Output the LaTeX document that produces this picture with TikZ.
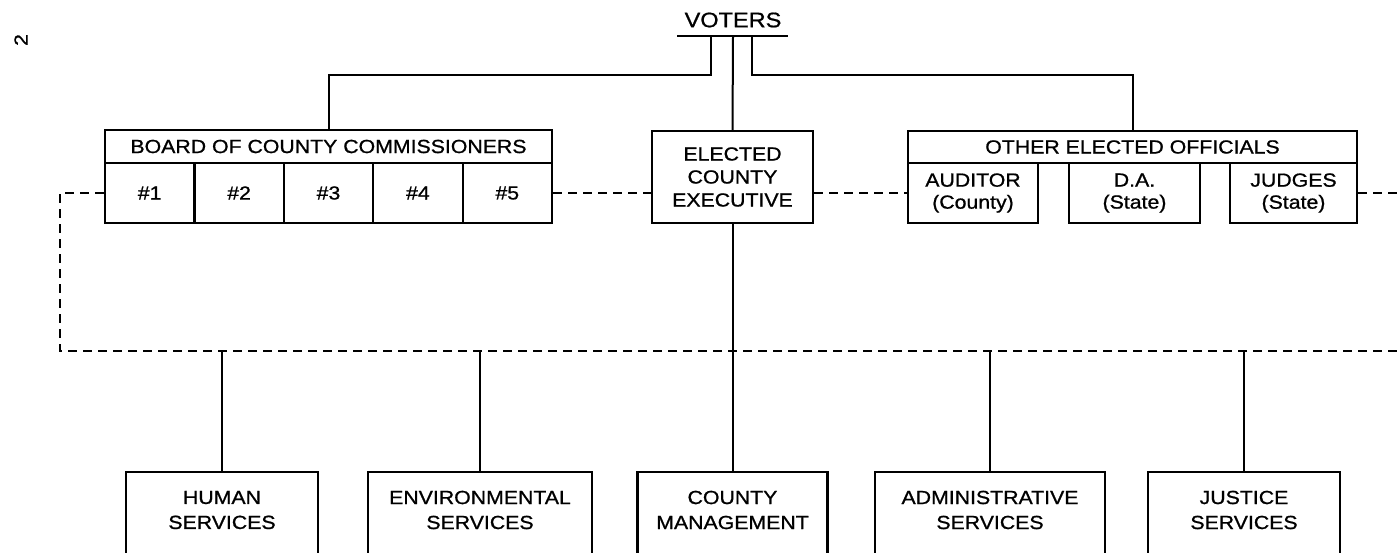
\documentclass[tikz,border=0pt]{standalone}
\usepackage{fontspec}
\setmainfont{Liberation Sans}[FakeStretch=1.12,FakeBold=0.9]
\begin{document}
\begin{tikzpicture}[x=1pt,y=-1pt,
  every node/.style={font=\fontsize{19}{23}\selectfont, align=center},
  box/.style={draw, line width=2.2pt, inner sep=0pt, anchor=center},
  conn/.style={line width=2pt},
  dashconn/.style={line width=1.8pt, dash pattern=on 9pt off 6pt},
  lbl/.style={inner sep=0pt}
]
\clip (0,0) rectangle (1397,553);
\fill[white] (0,0) rectangle (1397,553);

% page number
\node[lbl, rotate=90] (pg) at (21,40) {2};

% voters
\node[lbl, font=\fontsize{21}{25}\selectfont] (voters) at (733,20) {VOTERS};
\coordinate (vl) at (677,36);
\coordinate (vr) at (788,36);
\coordinate (v1) at (711,36);
\coordinate (v2) at (733,36);
\coordinate (v3) at (752,36);
\draw[conn] (vl) -- (vr);

% board
\node[box, minimum width=447pt, minimum height=33pt] (board) at (328.5,146.5) {BOARD OF COUNTY COMMISSIONERS};
\node[box, minimum width=89.4pt, minimum height=60pt] (c1) at (149.7,193) {\#1};
\node[box, minimum width=89.4pt, minimum height=60pt] (c2) at (239.1,193) {\#2};
\node[box, minimum width=89.4pt, minimum height=60pt] (c3) at (328.5,193) {\#3};
\node[box, minimum width=89.4pt, minimum height=60pt] (c4) at (417.9,193) {\#4};
\node[box, minimum width=89.4pt, minimum height=60pt] (c5) at (507.3,193) {\#5};

% executive
\node[box, minimum width=161pt, minimum height=92pt] (exec) at (732.5,177) {ELECTED\\COUNTY\\EXECUTIVE};

% other elected
\node[box, minimum width=449pt, minimum height=32pt] (other) at (1132.5,147) {OTHER ELECTED OFFICIALS};
\node[box, minimum width=130pt, minimum height=60pt, font=\fontsize{19}{22}\selectfont] (auditor) at (973,193) {AUDITOR\\(County)};
\node[box, minimum width=131pt, minimum height=60pt, font=\fontsize{19}{22}\selectfont] (da) at (1134.5,193) {D.A.\\(State)};
\node[box, minimum width=127pt, minimum height=60pt, font=\fontsize{19}{22}\selectfont] (judges) at (1293.5,193) {JUDGES\\(State)};

% bottom boxes
\tikzset{botbox/.style={box, minimum height=110pt}}
\node[botbox, minimum width=192pt] (human) at (222,527) {};
\node[botbox, minimum width=224pt] (env) at (480,527) {};
\node[botbox, minimum width=190pt] (mgmt) at (732.5,527) {};
\node[botbox, minimum width=230pt] (admin) at (990,527) {};
\node[botbox, minimum width=192pt] (justice) at (1244,527) {};
\tikzset{bottxt/.style={lbl, font=\fontsize{19}{25}\selectfont}}
\node[bottxt] (humant) at (222,510) {HUMAN\\SERVICES};
\node[bottxt] (envt) at (480,510) {ENVIRONMENTAL\\SERVICES};
\node[bottxt] (mgmtt) at (732.5,510) {COUNTY\\MANAGEMENT};
\node[bottxt] (admint) at (990,510) {ADMINISTRATIVE\\SERVICES};
\node[bottxt] (justicet) at (1244,510) {JUSTICE\\SERVICES};

% solid connectors from voters
\draw[conn] (v1) -- (711,75) -| (board.north);
\draw[conn] (v2) -- (exec.north);
\draw[conn] (v3) -- (752,75) -| (other.north);
\draw[conn] (exec.south) -- (mgmt.north);

% dashed relations
\coordinate (dl) at (60,351);
\coordinate (dr) at (1400,351);
\coordinate (jr) at (1400,193);
\draw[dashconn] (c1.west) -- (60,193) -- (dl) -- (dr);
\draw[dashconn] (c5.east) -- (c5.east -| exec.west);
\draw[dashconn] (auditor.west -| exec.east) -- (auditor.west);
\draw[dashconn] (judges.east) -- (jr);

% drops to departments
\draw[conn] (human.north |- dl) -- (human.north);
\draw[conn] (env.north |- dl) -- (env.north);
\draw[conn] (admin.north |- dl) -- (admin.north);
\draw[conn] (justice.north |- dl) -- (justice.north);
\end{tikzpicture}
\end{document}
